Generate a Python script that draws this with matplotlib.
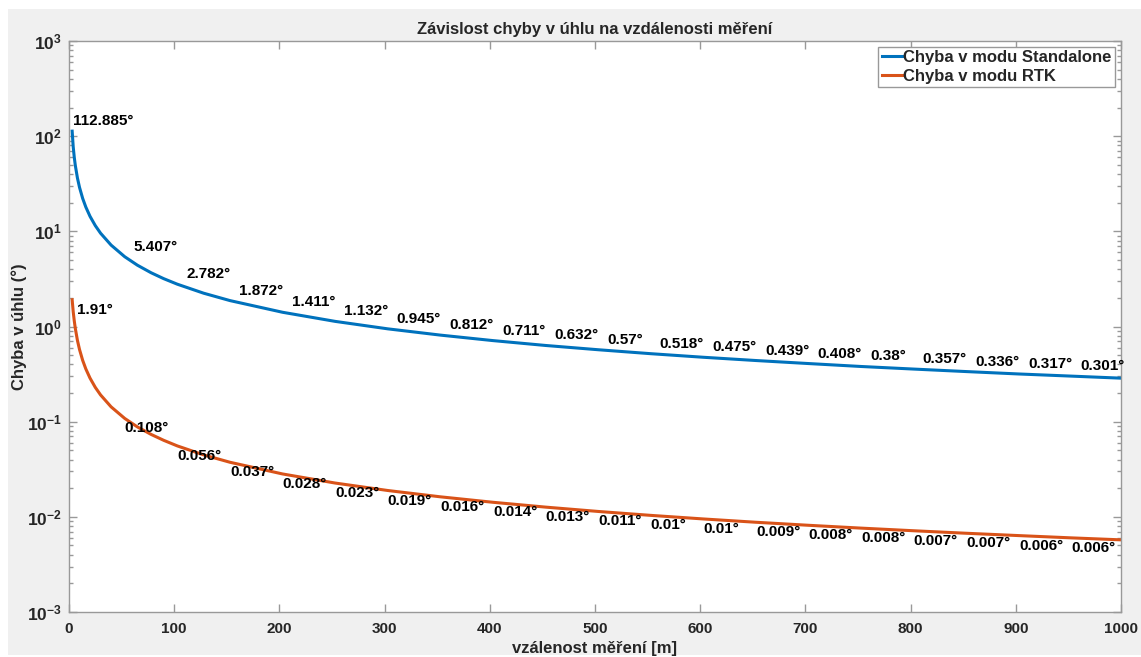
import matplotlib
matplotlib.use("Agg")
import matplotlib.pyplot as plt
from matplotlib.patches import Rectangle
from matplotlib.ticker import LogLocator, FixedLocator, NullFormatter

# distances [m]
dist = [3, 4, 5, 6, 8, 10, 13, 16, 20, 25, 30, 40, 53, 65, 78, 90, 103, 128,
        153, 203, 253, 303, 353, 403, 453, 503, 553, 603, 653, 703, 753, 803,
        853, 903, 953, 1000]

# angular error [deg], standalone mode
standalone = [112.885, 77.36, 60.0, 49.25, 36.42, 28.96, 22.17, 17.98, 14.36,
              11.48, 9.56, 7.17, 5.407, 4.408, 3.673, 3.183, 2.782, 2.238,
              1.872, 1.411, 1.132, 0.945, 0.812, 0.711, 0.632, 0.570, 0.518,
              0.475, 0.439, 0.408, 0.380, 0.357, 0.336, 0.317, 0.301, 0.2865]

# angular error [deg], RTK mode
rtk = [1.910, 1.432, 1.146, 0.955, 0.716, 0.573, 0.4407, 0.3581, 0.2865,
       0.2292, 0.1910, 0.1432, 0.1081, 0.0881, 0.0735, 0.0637, 0.0556, 0.04476,
       0.03745, 0.02822, 0.02265, 0.01891, 0.01623, 0.01422, 0.01265, 0.01139,
       0.01036, 0.00950, 0.00877, 0.00815, 0.00761, 0.00714, 0.00672, 0.00635,
       0.00601, 0.00573]

# labelled points
label_dist = [3, 53, 103, 153, 203, 253, 303, 353, 403, 453, 503, 553, 603,
              653, 703, 753, 803, 853, 903, 953]
standalone_labels = [112.885, 5.407, 2.782, 1.872, 1.411, 1.132, 0.945, 0.812,
                     0.711, 0.632, 0.57, 0.518, 0.475, 0.439, 0.408, 0.38,
                     0.357, 0.336, 0.317, 0.301]
rtk_labels = [1.91, 0.108, 0.056, 0.037, 0.028, 0.023, 0.019, 0.016, 0.014,
              0.013, 0.011, 0.01, 0.01, 0.009, 0.008, 0.008, 0.007, 0.007,
              0.006, 0.006]

yticks = [1e-3, 1e-2, 1e-1, 1e0, 1e1, 1e2, 1e3]
ytick_labels = [r"$\mathbf{10^{-3}}$", r"$\mathbf{10^{-2}}$", r"$\mathbf{10^{-1}}$",
                r"$\mathbf{10^{0}}$", r"$\mathbf{10^{1}}$", r"$\mathbf{10^{2}}$",
                r"$\mathbf{10^{3}}$"]
xticks = [0, 100, 200, 300, 400, 500, 600, 700, 800, 900, 1000]

plt.rcParams["font.family"] = ["Liberation Sans", "DejaVu Sans"]
plt.rcParams["font.weight"] = "bold"
plt.rcParams["mathtext.fontset"] = "custom"
plt.rcParams["mathtext.bf"] = "Liberation Sans:bold"
plt.rcParams["mathtext.rm"] = "Liberation Sans:bold"

BLUE = "#0072BD"
ORANGE = "#D95319"
AXCOL = "#999999"
TXT = "#262626"

fig = plt.figure(figsize=(11.41, 6.57), dpi=100)
fig.patch.set_facecolor("white")
# grey window background (screenshot style)
fig.patches.append(Rectangle((8 / 1141, 2 / 657), 1 - 8 / 1141, 646 / 657,
                             transform=fig.transFigure, facecolor="#F0F0F0",
                             edgecolor="none", zorder=-10))

ax = fig.add_axes([69 / 1141, 45 / 657, 1052 / 1141, 571 / 657])
ax.set_facecolor("white")

ax.plot(dist, standalone, color=BLUE, lw=2.2, label="Chyba v modu Standalone")
ax.plot(dist, rtk, color=ORANGE, lw=2.2, label="Chyba v modu RTK")

# value labels
for i, d in enumerate(label_dist):
  k = dist.index(d)
  dx = 0.5 if i == 0 else 9
  ax.annotate(f"{standalone_labels[i]:g}°", (d, standalone[k]), xytext=(dx, 10),
              textcoords="offset pixels", ha="left", va="center",
              fontsize=11, fontweight="bold", color="black")
  dx = 4.5 if i == 0 else 0
  ax.annotate(f"{rtk_labels[i]:g}°", (d, rtk[k]), xytext=(dx, -10),
              textcoords="offset pixels", ha="left", va="center",
              fontsize=11, fontweight="bold", color="black")

# Format plot
ax.set_yscale("log")
ax.set_xlim(0, 1000)
ax.set_ylim(1e-3, 1e3)
ax.set_xticks(xticks)
ax.set_xticklabels([str(x) for x in xticks])
ax.yaxis.set_major_locator(FixedLocator(yticks))
ax.set_yticklabels(ytick_labels)
ax.yaxis.set_minor_locator(LogLocator(base=10, subs=range(2, 10), numticks=20))
ax.yaxis.set_minor_formatter(NullFormatter())

ax.tick_params(axis="both", which="both", direction="in", top=True, right=True,
               colors=AXCOL, labelcolor=TXT, labelsize=11, width=1)
ax.tick_params(axis="both", which="major", length=6)
ax.tick_params(axis="y", which="minor", length=3)
ax.tick_params(axis="x", pad=7)
ax.tick_params(axis="y", pad=5, labelsize=12.5)
for s in ax.spines.values():
  s.set_color(AXCOL)
  s.set_linewidth(1)

ax.set_xlabel("vzálenost měření [m]", fontsize=12, fontweight="bold",
              color=TXT, labelpad=4)
ax.set_ylabel("Chyba v úhlu (°)", fontsize=12, fontweight="bold",
              color=TXT, labelpad=0)
ax.set_title("Závislost chyby v úhlu na vzdálenosti měření", fontsize=12,
             fontweight="bold", color=TXT, pad=5)

leg = ax.legend(loc="upper right", fontsize=12, frameon=True, fancybox=False,
                framealpha=1, edgecolor=AXCOL, handlelength=1.2,
                handletextpad=0.1, labelspacing=0.2, borderpad=0.2,
                borderaxespad=0.35)
leg.get_frame().set_linewidth(1)
for t in leg.get_texts():
  t.set_color(TXT)

fig.savefig("out.png", dpi=100, facecolor=fig.get_facecolor())
